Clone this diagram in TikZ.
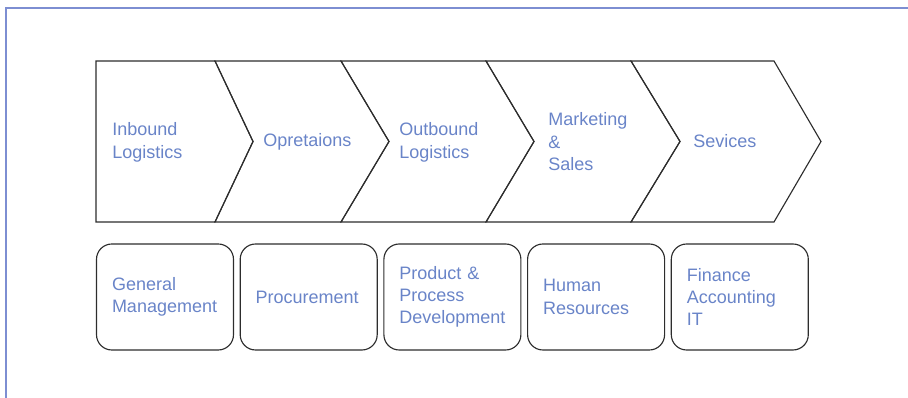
\documentclass[tikz,border=0pt]{standalone}
\usepackage{fontspec}
\setmainfont{Liberation Sans}
\definecolor{txtblue}{RGB}{105,132,200}
\definecolor{frameblue}{RGB}{125,142,210}
\definecolor{outline}{RGB}{45,45,45}
\newcommand{\lstack}[1]{\begin{tabular}[t]{@{}l@{}}#1\end{tabular}}
\begin{document}
\begin{tikzpicture}[x=0.75pt,y=-0.75pt,
  font=\fontsize{13.5pt}{16.7pt}\selectfont,
  frameline/.style={draw=frameblue,line width=1pt},
  chev/.style={draw=outline,line width=0.85pt,line join=miter},
  lbl/.style={text=txtblue,inner sep=0pt,anchor=base west},
  supbox/.style={draw=outline,line width=0.85pt,rounded corners=11.5pt,
    minimum width=102.75pt,minimum height=79.5pt,text width=79.5pt,
    inner xsep=11.6pt,inner ysep=0pt,align=left,text=txtblue}]
\useasboundingbox (0,0) rectangle (908,398);
% frame
\coordinate (fb) at (6,398);
\coordinate (fc) at (6,8);
\coordinate (fr) at (908,8);
\draw[frameline] (fb) -- (fc) -- (fr);
% chevrons
\draw[chev] (96,61) -- (215,61) -- (253,141.5) -- (215,222) -- (96,222) -- cycle;
\draw[chev] (215,61) -- (341,61) -- (389,141.5) -- (341,222) -- (215,222) -- (253,141.5) -- cycle;
\draw[chev] (341,61) -- (486,61) -- (534,141.5) -- (486,222) -- (341,222) -- (389,141.5) -- cycle;
\draw[chev] (486,61) -- (631,61) -- (680,141.5) -- (631,222) -- (486,222) -- (534,141.5) -- cycle;
\draw[chev] (631,61) -- (774,61) -- (821,141.5) -- (774,222) -- (631,222) -- (680,141.5) -- cycle;
% chevron labels
\node[lbl] (inb) at (112,136) {\lstack{Inbound\\Logistics}};
\node[lbl] (ops) at (263,147) {Opretaions};
\node[lbl] (outb) at (399,136) {\lstack{Outbound\\Logistics}};
\node[lbl] (mks) at (548,126) {\lstack{Marketing\\\&\\Sales}};
\node[lbl] (svc) at (693,148) {Sevices};
% support activities
\node[supbox] (gm) at (165,297) {General\\Management};
\node[supbox] (proc) at (308.7,297) {Procurement};
\node[supbox] (ppd) at (452.4,297) {Product \&\\Process\\Development};
\node[supbox] (hr) at (596.1,297) {Human\\Resources};
\node[supbox] (fin) at (739.8,297) {Finance\\Accounting\\IT};
\end{tikzpicture}
\end{document}
